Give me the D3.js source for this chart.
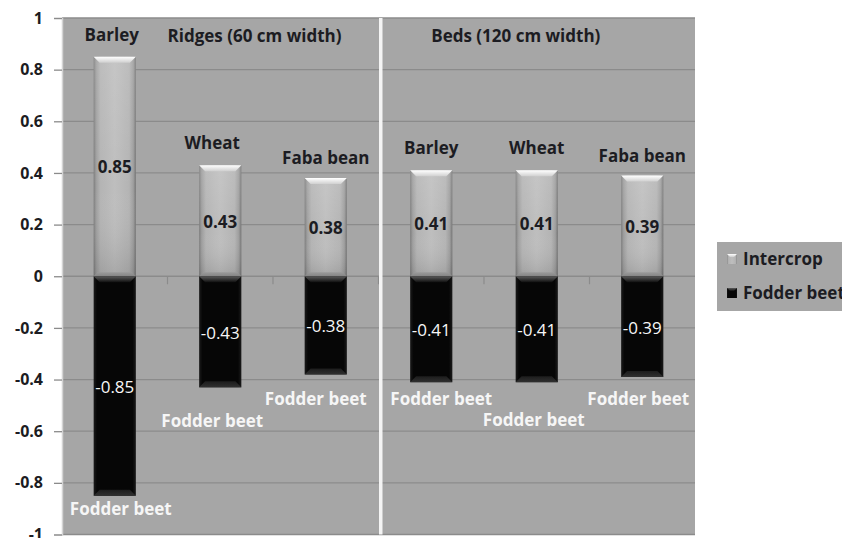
<!DOCTYPE html>
<html>
<head>
<meta charset="utf-8">
<script src="https://cdn.jsdelivr.net/npm/d3@7"></script>
<style>
  html, body { margin: 0; padding: 0; background: #ffffff; }
  svg { display: block; }
  text { font-family: "Open Sans", Lato, "DejaVu Sans", sans-serif; }
</style>
</head>
<body>
<svg id="chart" width="842" height="538"></svg>
<script>
// ---- data ----
const categories = ["Barley", "Wheat", "Faba bean", "Barley", "Wheat", "Faba bean"];
const systems = ["Ridges (60 cm width)", "Beds (120 cm width)"];
const seriesNames = ["Intercrop", "Fodder beet"];
const intercrop = [0.85, 0.43, 0.38, 0.41, 0.41, 0.39];
const fodderBeet = [-0.85, -0.43, -0.38, -0.41, -0.41, -0.39];
const yTicks = [1, 0.8, 0.6, 0.4, 0.2, 0, -0.2, -0.4, -0.6, -0.8, -1];
const yTickLabels = ["1", "0.8", "0.6", "0.4", "0.2", "0", "-0.2", "-0.4", "-0.6", "-0.8", "-1"];

// ---- layout ----
const svg = d3.select("#chart");
const plot = { left: 62, right: 695, top: 18, bottom: 534.5 };
const bg = "#a6a6a6", gridColor = "#8b8b8b";
const darkText = "#1c1c22", lightText = "#f6f6f6";

const x = d3.scaleBand().domain(d3.range(categories.length))
  .range([plot.left, plot.right]).paddingInner(0.6).paddingOuter(0.3);
const y = d3.scaleLinear().domain([-1, 1]).range([plot.bottom, plot.top]);
const step = x.step();
const bw = x.bandwidth();
const boundary = i => x(i) - step * x.paddingInner() / 2;

// ---- defs (gradients) ----
const defs = svg.append("defs");
function lin(id, x1, y1, x2, y2, stops) {
  const g = defs.append("linearGradient").attr("id", id)
    .attr("x1", x1).attr("y1", y1).attr("x2", x2).attr("y2", y2);
  stops.forEach(s => g.append("stop").attr("offset", s[0]).attr("stop-color", s[1]).attr("stop-opacity", s[2] == null ? 1 : s[2]));
}
lin("grayH", 0, 0, 1, 0, [[0, "#7c7c7c"], [0.06, "#9e9e9e"], [0.16, "#b4b4b4"], [0.5, "#bebebe"], [0.84, "#b4b4b4"], [0.94, "#9e9e9e"], [1, "#747474"]]);
lin("grayV", 0, 0, 0, 1, [[0, "#ffffff", 0.12], [0.6, "#ffffff", 0], [1, "#000000", 0.12]]);
lin("grayTop", 0, 0, 0, 1, [[0, "#ffffff"], [1, "#cfcfcf"]]);
lin("grayBot", 0, 0, 0, 1, [[0, "#9a9a9a"], [1, "#858585"]]);
lin("blackH", 0, 0, 1, 0, [[0, "#1a1a1a"], [0.08, "#060606"], [0.92, "#060606"], [1, "#1a1a1a"]]);
lin("blackTop", 0, 0, 0, 1, [[0, "#5c5c5c"], [1, "#101010"]]);
lin("blackBot", 0, 0, 0, 1, [[0, "#1c1c1c"], [1, "#303030"]]);

// ---- plot background ----
svg.append("rect").attr("x", plot.left).attr("y", plot.top)
  .attr("width", plot.right - plot.left).attr("height", plot.bottom - plot.top)
  .attr("fill", bg);

// gridlines
svg.append("g").selectAll("line").data(yTicks).join("line")
  .attr("x1", plot.left).attr("x2", plot.right)
  .attr("y1", d => y(d)).attr("y2", d => y(d))
  .attr("stroke", gridColor).attr("stroke-width", 1.3);

// y axis
const yAxis = d3.axisLeft(y).tickValues(yTicks)
  .tickFormat((d, i) => yTickLabels[i]).tickSize(8).tickPadding(11);
const gy = svg.append("g").attr("transform", `translate(${plot.left},0)`).call(yAxis);
gy.select(".domain").attr("stroke", "#d4d4d4").attr("stroke-width", 1.5);
gy.selectAll(".tick line").attr("stroke", gridColor).attr("stroke-width", 1.3);
gy.selectAll(".tick text").attr("fill", darkText).attr("font-size", 16).attr("font-weight", 700)
  .attr("font-family", "'Open Sans', Lato, sans-serif");

// category ticks on zero line
svg.append("g").selectAll("line").data(d3.range(1, categories.length)).join("line")
  .attr("x1", d => boundary(d)).attr("x2", d => boundary(d))
  .attr("y1", y(0)).attr("y2", y(0) + 8)
  .attr("stroke", gridColor).attr("stroke-width", 1.2);

// panel divider
svg.append("rect").attr("x", boundary(3) + 0.5).attr("y", plot.top)
  .attr("width", 3.5).attr("height", plot.bottom - plot.top).attr("fill", "#f4f4f4");

// ---- bars ----
const bev = 6;
function trap(x0, yTop, w, h, narrowBottom) {
  if (narrowBottom) return `M${x0},${yTop}L${x0 + w},${yTop}L${x0 + w - h},${yTop + h}L${x0 + h},${yTop + h}Z`;
  return `M${x0 + h},${yTop}L${x0 + w - h},${yTop}L${x0 + w},${yTop + h}L${x0},${yTop + h}Z`;
}
const bars = svg.append("g");
intercrop.forEach((v, i) => {
  const x0 = x(i), yt = y(v), yb = y(0);
  const g = bars.append("g");
  g.append("rect").attr("x", x0).attr("y", yt).attr("width", bw).attr("height", yb - yt).attr("fill", "url(#grayH)");
  g.append("rect").attr("x", x0).attr("y", yt).attr("width", bw).attr("height", yb - yt).attr("fill", "url(#grayV)");
  g.append("path").attr("d", trap(x0, yt, bw, bev, true)).attr("fill", "url(#grayTop)");
  g.append("path").attr("d", trap(x0, yb - 4, bw, 4, false)).attr("fill", "url(#grayBot)");
});
fodderBeet.forEach((v, i) => {
  const x0 = x(i), yt = y(0), yb = y(v);
  const g = bars.append("g");
  g.append("rect").attr("x", x0).attr("y", yt).attr("width", bw).attr("height", yb - yt).attr("fill", "url(#blackH)");
  g.append("path").attr("d", trap(x0, yt, bw, bev, true)).attr("fill", "url(#blackTop)");
  g.append("path").attr("d", trap(x0, yb - bev, bw, bev, false)).attr("fill", "url(#blackBot)");
});

// ---- value labels ----
const labels = svg.append("g");
labels.selectAll("text.pos").data(intercrop).join("text").attr("class", "pos")
  .attr("x", (d, i) => x(i) + bw / 2).attr("y", d => (y(d) + y(0)) / 2 + 7)
  .attr("text-anchor", "middle").attr("font-size", 17).attr("font-weight", 700)
  .attr("fill", darkText).text(d => d.toFixed(2));
labels.selectAll("text.neg").data(fodderBeet).join("text").attr("class", "neg")
  .attr("x", (d, i) => x(i) + bw / 2).attr("y", d => (y(d) + y(0)) / 2 + 7)
  .attr("text-anchor", "middle").attr("font-size", 17).attr("font-weight", 400)
  .attr("fill", lightText).text(d => d.toFixed(2));

// category names above intercrop bars
labels.selectAll("text.cat").data(categories).join("text").attr("class", "cat")
  .attr("x", (d, i) => x(i) + bw / 2 + (i === 0 ? -3 : i === 1 ? -8 : 0))
  .attr("y", (d, i) => y(intercrop[i]) - (d === "Faba bean" ? 14 : 16))
  .attr("text-anchor", "middle").attr("font-size", 17).attr("font-weight", 700)
  .attr("fill", darkText).text(d => d);

// "Fodder beet" labels below negative bars (staggered to avoid overlap)
labels.selectAll("text.fb").data(fodderBeet).join("text").attr("class", "fb")
  .attr("x", (d, i) => x(i) + bw / 2 + [6, -8, -10, 10, -3, -4][i])
  .attr("y", (d, i) => Math.max(y(d) + 19, y(-0.5)) + (categories[i] === "Wheat" ? 21 : 0))
  .attr("text-anchor", "middle").attr("font-size", 17).attr("font-weight", 700)
  .attr("fill", lightText).text(seriesNames[1]);

// system titles
labels.append("text").attr("x", boundary(1)).attr("y", 42)
  .attr("font-size", 17).attr("font-weight", 700).attr("fill", darkText).text(systems[0]);
labels.append("text").attr("x", x(3) + bw / 2).attr("y", 42)
  .attr("font-size", 17).attr("font-weight", 700).attr("fill", darkText).text(systems[1]);

// ---- legend ----
const lg = svg.append("g").attr("transform", "translate(717,242)");
lg.append("rect").attr("x", 0).attr("y", 0).attr("width", 140).attr("height", 69).attr("fill", bg);
const items = lg.selectAll("g.item").data(seriesNames).join("g").attr("class", "item")
  .attr("transform", (d, i) => `translate(10,${17 + i * 34})`);
items.append("rect").attr("x", 0).attr("y", -5).attr("width", 10).attr("height", 10)
  .attr("fill", (d, i) => i === 0 ? "url(#grayH)" : "url(#blackH)");
items.append("path").attr("d", trap(0, -5, 10, 3, true))
  .attr("fill", (d, i) => i === 0 ? "url(#grayTop)" : "url(#blackTop)");
items.append("text").attr("x", 16).attr("y", 6)
  .attr("font-size", 17).attr("font-weight", 700).attr("fill", darkText).text(d => d);
</script>
</body>
</html>
